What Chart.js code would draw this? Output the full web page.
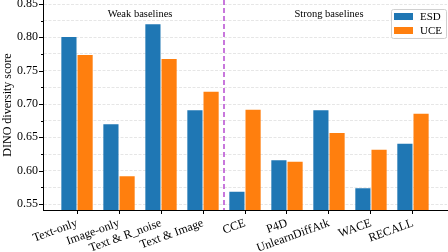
<!DOCTYPE html>
<html>
<head>
<meta charset="utf-8">
<script src="https://cdn.jsdelivr.net/npm/chart.js@4/dist/chart.umd.min.js"></script>
<style>
html,body{margin:0;padding:0;background:#fff;}
#wrap{width:448px;height:252px;}
</style>
</head>
<body>
<div id="wrap"><canvas id="c" width="448" height="252"></canvas></div>
<script>
const categories = ['Text-only','Image-only','Text & R_noise','Text & Image','CCE','P4D','UnlearnDiffAtk','WACE','RECALL'];
const seriesNames = ['ESD','UCE'];
const esdValues = [0.802,0.671,0.821,0.692,0.570,0.617,0.692,0.575,0.642];
const uceValues = [0.775,0.593,0.769,0.720,0.693,0.615,0.658,0.633,0.687];
const yTickValues = [0.55,0.575,0.60,0.625,0.65,0.675,0.70,0.725,0.75,0.775,0.80,0.825,0.85];
const groupTitles = ['Weak baselines','Strong baselines'];
const groupTitleX = [1.5, 6.0];
const groupTitleY = 0.835;
const dividerX = 3.5;
const yAxisTitle = 'DINO diversity score';

const SERIF = '"Liberation Serif","Times New Roman",serif';
const colors = ['#1f77b4','#ff7f0e'];

function isMajor(v){ return Math.abs(v/0.05 - Math.round(v/0.05)) < 1e-6; }

const decorPlugin = {
  id:'decor',
  afterDatasetsDraw(chart){
    const ctx = chart.ctx, xs = chart.scales.x, ys = chart.scales.y, ca = chart.chartArea;
    ctx.save();
    const dx = Math.round(xs.getPixelForValue(dividerX));
    ctx.strokeStyle = 'rgba(186,85,211,0.8)';
    ctx.lineWidth = 2;
    ctx.setLineDash([5,3]);
    ctx.beginPath();
    ctx.moveTo(dx, ca.top);
    ctx.lineTo(dx, ca.bottom);
    ctx.stroke();
    ctx.restore();
    ctx.save();
    ctx.fillStyle = '#000';
    ctx.font = '10.5px ' + SERIF;
    ctx.textAlign = 'center';
    ctx.textBaseline = 'middle';
    groupTitles.forEach((t,i)=>{
      ctx.fillText(t, xs.getPixelForValue(groupTitleX[i]), ys.getPixelForValue(groupTitleY));
    });
    ctx.restore();
    ctx.save();
    ctx.strokeStyle = '#000';
    ctx.lineWidth = 1;
    ys.ticks.forEach(t=>{
      const y = Math.round(ys.getPixelForValue(t.value)) + 0.5;
      const len = isMajor(t.value) ? 4 : 2;
      ctx.beginPath();
      ctx.moveTo(ca.left - len, y);
      ctx.lineTo(ca.left, y);
      ctx.stroke();
    });
    ctx.restore();
  },
  afterDraw(chart){
    const ctx = chart.ctx, ca = chart.chartArea;
    const right = ca.right, top = ca.top + 9;
    const w = 56, h = 29;
    const left = right - w;
    ctx.save();
    ctx.fillStyle = 'rgba(255,255,255,0.85)';
    ctx.strokeStyle = '#d0d0d0';
    ctx.lineWidth = 1;
    ctx.beginPath();
    if (ctx.roundRect) ctx.roundRect(left+0.5, top+0.5, w-1, h, 2); else ctx.rect(left+0.5, top+0.5, w-1, h);
    ctx.fill();
    ctx.stroke();
    ctx.font = '11px ' + SERIF;
    ctx.textBaseline = 'middle';
    ctx.textAlign = 'left';
    chart.data.datasets.forEach((ds,i)=>{
      const cy = top + 7 + i*14;
      ctx.fillStyle = ds.backgroundColor;
      ctx.fillRect(left + 3, cy - 3, 19, 7);
      ctx.fillStyle = '#000';
      ctx.fillText(ds.label, left + 29, cy + 1);
    });
    ctx.restore();
  }
};

const datasets = [esdValues, uceValues].map((vals,i)=>({
  label: seriesNames[i],
  data: vals.map((v,j)=>({x:j, y:v})),
  backgroundColor: colors[i],
  borderColor: 'rgba(255,255,255,0.35)',
  borderWidth: {top:1, left:0.5, right:0.5, bottom:0},
  borderSkipped: 'bottom',
  categoryPercentage: 0.77,
  barPercentage: 1.0
}));

new Chart(document.getElementById('c'), {
  type:'bar',
  data:{ datasets },
  plugins:[decorPlugin],
  options:{
    responsive:false,
    animation:false,
    layout:{ padding:{ left:0, right:1, top:0, bottom:0 } },
    plugins:{ legend:{display:false}, tooltip:{enabled:false} },
    scales:{
      x:{
        type:'linear',
        offset:false,
        min:-0.81, max:8.81,
        afterBuildTicks(s){ s.ticks = categories.map((_,i)=>({value:i})); },
        afterFit(s){ s.height = 42; s.paddingLeft = 0; s.paddingRight = 0; },
        ticks:{
          autoSkip:false,
          minRotation:20, maxRotation:20,
          padding:2,
          color:'#000',
          font:{ family:SERIF, size:12 },
          callback:(v)=>categories[v]
        },
        grid:{ display:true, offset:false, drawOnChartArea:false, drawTicks:true, tickLength:4, color:'#000', tickColor:'#000' },
        border:{ display:true, color:'#000', width:1 }
      },
      y:{
        type:'linear',
        min:0.541, max:0.856,
        afterBuildTicks(s){ s.ticks = yTickValues.map(v=>({value:v})); },
        afterFit(s){ s.width = 43; s.paddingTop = 0; s.paddingBottom = 0; },
        ticks:{
          padding:5,
          color:'#000',
          font:{ family:SERIF, size:12 },
          callback:(v)=> isMajor(v) ? v.toFixed(2) : ''
        },
        grid:{ display:true, drawOnChartArea:true, drawTicks:false, color:'#e6e6e6', lineWidth:1 },
        border:{ display:true, color:'#000', width:1, dash:[3,1.5] },
        title:{ display:true, text:yAxisTitle, color:'#000', font:{ family:SERIF, size:12 }, padding:{top:1,bottom:0} }
      }
    }
  }
});
</script>
</body>
</html>
